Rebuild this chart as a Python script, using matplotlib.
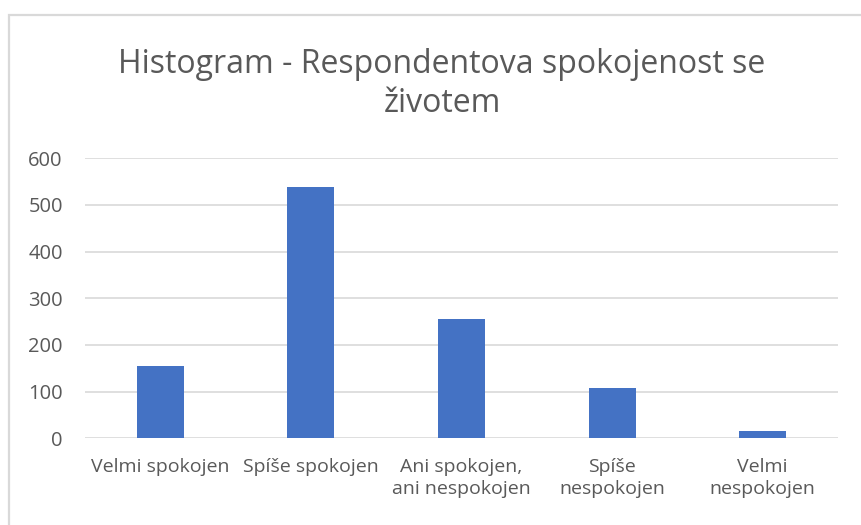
import matplotlib
matplotlib.use("Agg")
from matplotlib import pyplot as plt
from matplotlib.patches import Rectangle

# kategorie a pocty respondentu
categories = ["Velmi spokojen", "Spíše spokojen", "Ani spokojen,\nani nespokojen",
              "Spíše\nnespokojen", "Velmi\nnespokojen"]
counts = [156, 538, 256, 107, 16]
y_ticks = [0, 100, 200, 300, 400, 500, 600]

plt.rcParams['font.family'] = ['Open Sans', 'DejaVu Sans']
text_col = '#595959'

fig = plt.figure(figsize=(8.61, 5.25), dpi=100)
ax = fig.add_axes([85 / 861, 1 - 438.3 / 525, 753 / 861, 280 / 525])

x = range(len(categories))
ax.bar(x, counts, width=0.313, color='#4472C4', zorder=3)

ax.set_xlim(-0.5, len(categories) - 0.5)
ax.set_ylim(0, 600)
ax.set_yticks(y_ticks)
ax.set_yticklabels([str(t) for t in y_ticks], fontsize=14.5, color=text_col)
ax.set_xticks(list(x))
ax.set_xticklabels(categories, fontsize=14, color=text_col, linespacing=1.3, va='top')
ax.tick_params(length=0, axis='y', pad=16)
ax.tick_params(length=0, axis='x', pad=14)
ax.grid(axis='y', color='#D9D9D9', linewidth=1.2, zorder=0)
for s in ax.spines.values():
    s.set_visible(False)

fig.text(442 / 861, 1 - 84 / 525, "Histogram - Respondentova spokojenost se\nživotem",
         ha='center', va='center', fontsize=23, color=text_col, linespacing=1.27)

# ramecek grafu (pravy a dolni okraj jsou mimo obrazek)
fig.patches.append(Rectangle((9 / 861, -0.05), 1.0, 1 - 14.5 / 525 + 0.05,
                             transform=fig.transFigure, fill=False,
                             edgecolor='#D9D9D9', linewidth=1.6))

fig.savefig('out.png', dpi=100)
